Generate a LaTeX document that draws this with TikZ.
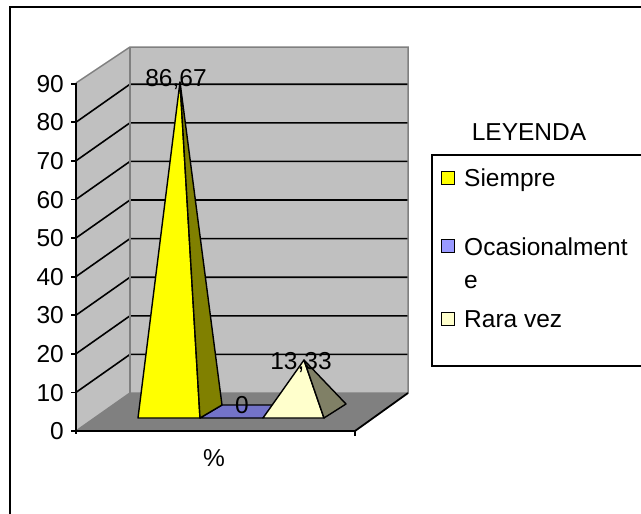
\documentclass[tikz,border=0pt]{standalone}
\usepackage{fontspec}
\setmainfont{Liberation Sans}
\usetikzlibrary{positioning}
\definecolor{wallgray}{RGB}{192,192,192}
\definecolor{floorgray}{RGB}{128,128,128}
\definecolor{siempre}{RGB}{255,255,0}
\definecolor{siempredark}{RGB}{128,128,0}
\definecolor{ocasional}{RGB}{153,153,255}
\definecolor{ocasionaldark}{RGB}{115,115,200}
\definecolor{raravez}{RGB}{255,255,204}
\definecolor{raravezdark}{RGB}{128,128,102}
\tikzset{
    edge/.style={draw=floorgray,line width=1.5pt},
    grid/.style={line width=1.6pt},
    axis/.style={line width=1.8pt},
    face/.style={draw=black,line width=1.4pt,line join=round},
    lbl/.style={inner sep=0pt,anchor=base,font=\fontsize{24.5}{28}\selectfont},
    swatch/.style={draw,line width=1.4pt,minimum size=13pt,inner sep=0pt},
}
\newcommand\gridline[1]{
    \draw[grid] (76,{431-3.86*#1}) -- (130,{393-3.86*#1}) -- (408,{393-3.86*#1});
}
\newcommand\ytick[1]{
    \draw[axis] (71,{431-3.86*#1}) -- (76,{431-3.86*#1});
    \node[lbl,anchor=base east] (y#1) at (64,{439.6-3.86*#1}) {#1};
}
\newcommand\pyramid[6]{
    \filldraw[face,fill=#5] (#1) -- (#2) -- (#4) -- cycle;
    \filldraw[face,fill=#6] (#2) -- (#3) -- (#4) -- cycle;
}

\begin{document}
\begin{tikzpicture}[x=1pt,y=-1pt]
            \useasboundingbox (0,0) rectangle (641,514);
            \draw[line width=2pt] (10,514) -- (10,7) -- (641,7);
            % walls and floor
            \fill[wallgray] (130,47) rectangle (408,393);
            \fill[wallgray] (76,431) -- (76,83) -- (130,47) -- (130,393) -- cycle;
            \fill[floorgray] (76,431) -- (355,431) -- (408,393) -- (130,393) -- cycle;
            \gridline{10}
            \gridline{20}
            \gridline{30}
            \gridline{40}
            \gridline{50}
            \gridline{60}
            \gridline{70}
            \gridline{80}
            \draw[edge] (76,83) -- (130,47) -- (408,47) -- (408,393);
            \draw[edge] (130,47) -- (130,393);
            \draw[edge] (76,431) -- (130,393) -- (408,393);
            \draw[axis] (76,83) -- (76,434);
            \draw[axis] (76,431) -- (355,431) -- (408,393);
            \draw[axis] (355,431) -- (355,436);
            \ytick{0}
            \ytick{10}
            \ytick{20}
            \ytick{30}
            \ytick{40}
            \ytick{50}
            \ytick{60}
            \ytick{70}
            \ytick{80}
            \ytick{90}
            % pyramids
            \filldraw[face,fill=ocasionaldark] (200,418) -- (263,418) -- (273,405)
                -- (222,405) -- cycle;
            \pyramid{138,418}{200,418}{222,405}{180,82}{siempre}{siempredark}
            \pyramid{263,418}{324,418}{346,404}{304,360}{raravez}{raravezdark}
            \node[lbl] (v1) at (176,86.6) {86,67};
            \node[lbl] (v2) at (242,413.6) {0};
            \node[lbl] (v3) at (301,369.6) {13,33};
            \node[lbl] (xlab) at (214,466.6) {\%};
            % legend
            \draw[line width=1.8pt] (641,155) -- (432,155) -- (432,366) -- (641,366);
            \node[lbl] (leg) at (529,140.6) {LEYENDA};
            \node[swatch,fill=siempre]   (s1) at (448,178) {};
            \node[swatch,fill=ocasional] (s2) at (448,246) {};
            \node[swatch,fill=raravez]   (s3) at (448,319) {};
            \node[lbl,anchor=base west] (t1) at (464,186.6) {Siempre};
            \node[lbl,anchor=base west] (t2) at (464,255.6) {Ocasionalment};
            \node[lbl,anchor=base west] (t2b) at (464,288) {e};
            \node[lbl,anchor=base west] (t3) at (464,327.6) {Rara vez};
        \end{tikzpicture}
\end{document}
